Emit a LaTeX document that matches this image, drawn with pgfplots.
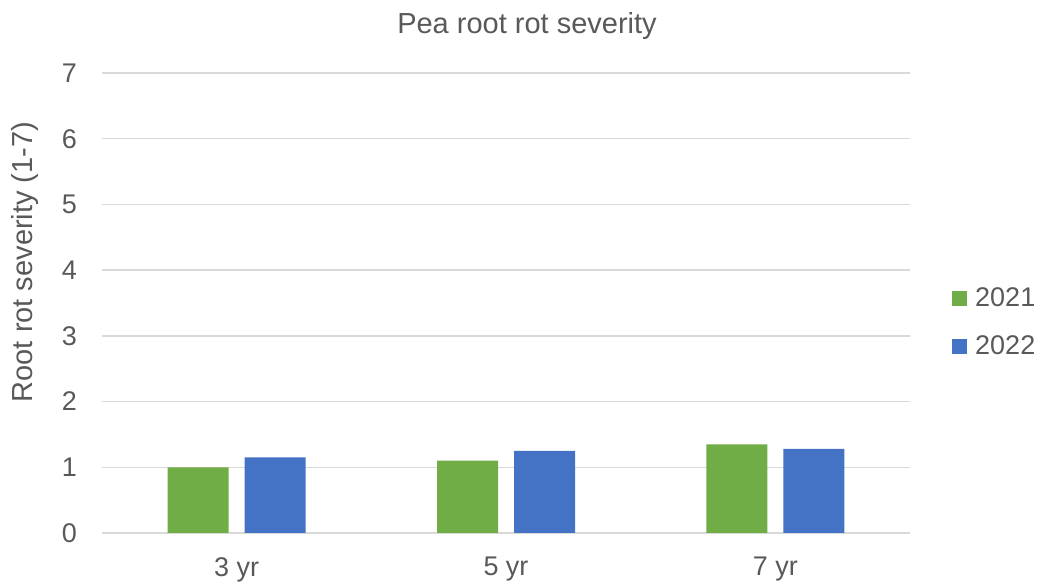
\documentclass[border=0pt]{standalone}
\usepackage{fontspec}
\setmainfont{Liberation Sans}
\usepackage{pgfplots}
\pgfplotsset{compat=1.18}
\definecolor{cgreen}{HTML}{70AD47}
\definecolor{cblue}{HTML}{4472C4}
\definecolor{cgrid}{HTML}{D9D9D9}
\definecolor{ctext}{HTML}{595959}
\begin{document}
\begin{tikzpicture}
\path[use as bounding box] (0,0) rectangle (1042pt,583pt);
\begin{axis}[
  at={(102pt,50pt)}, anchor=south west,
  scale only axis, width=808pt, height=460pt,
  /pgf/number format/assume math mode=true,
  ybar=16pt, bar width=61pt,
  xmin=-0.5, xmax=2.5, ymin=0, ymax=7,
  xtick={0,1,2}, xticklabels={3 yr,5 yr,7 yr},
  ytick={0,1,...,7},
  ymajorgrids, grid style={cgrid, line width=1.5pt},
  axis line style={draw=none},
  major tick length=0pt,
  yticklabel style={font=\fontsize{27}{30}\selectfont, text=ctext, anchor=east, inner sep=0pt, xshift=-25pt},
  xticklabel style={font=\fontsize{27}{32}\selectfont, text=ctext, anchor=north, inner sep=0pt, yshift=-24pt},
  legend style={at={(1.052,0.4582)}, anchor=west, draw=none, fill=none, inner sep=0pt,
    font=\fontsize{27}{32}\selectfont, text=ctext,
    nodes={inner sep=0pt}, row sep=27.5pt,
    /tikz/every odd column/.append style={column sep=8pt}},
  legend cell align=left,
  legend image code/.code={\fill[#1] (0pt,-7.5pt) rectangle (15pt,7.5pt);},
]
\addplot[fill=cgreen, draw=none] coordinates {(0,1.0) (1,1.1) (2,1.35)};
\addplot[fill=cblue, draw=none] coordinates {(0,1.15) (1,1.25) (2,1.28)};
\legend{2021,2022}
\end{axis}
\node[anchor=base, text=ctext, font=\fontsize{29}{33}\selectfont] at (527pt,549pt) {Pea root rot severity};
\node[rotate=90, text=ctext, font=\fontsize{29}{33}\selectfont] at (25pt,321pt) {Root rot severity (1-7)};
\end{tikzpicture}
\end{document}
